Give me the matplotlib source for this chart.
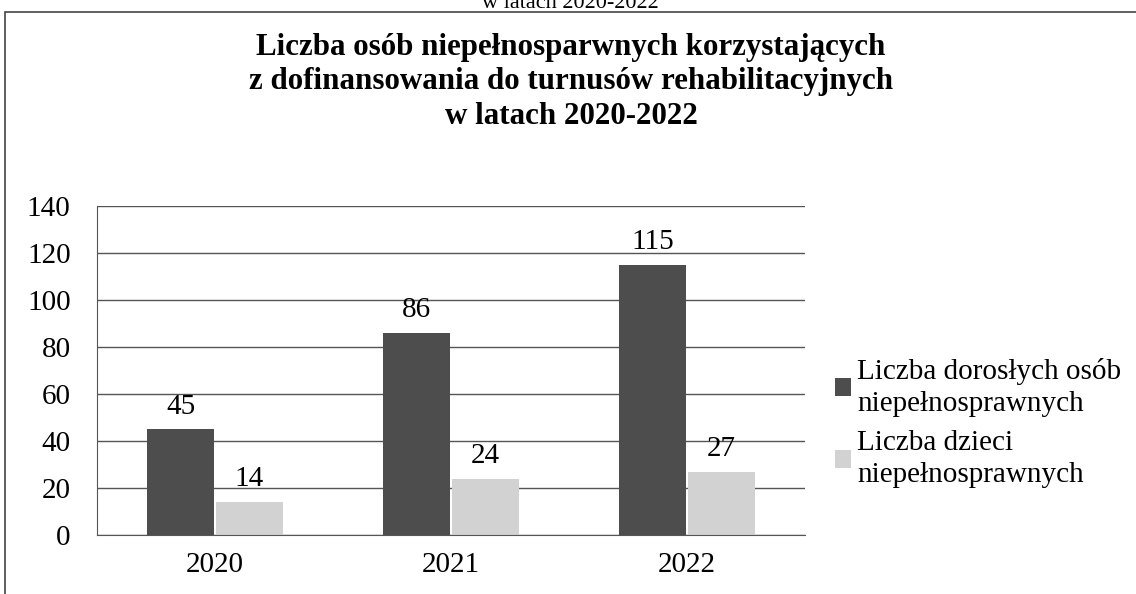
import matplotlib.pyplot as plt
from matplotlib.patches import Rectangle
import numpy as np

years = ['2020', '2021', '2022']
adults = [45, 86, 115]
children = [14, 24, 27]
series_names = ['Liczba dorosłych osób\nniepełnosprawnych',
                'Liczba dzieci\nniepełnosprawnych']
title = ('Liczba osób niepełnosparwnych korzystających\n'
         'z dofinansowania do turnusów rehabilitacyjnych\n'
         'w latach 2020-2022')
cut_title = 'w latach 2020-2022'

plt.rcParams['font.family'] = ['Liberation Serif', 'DejaVu Serif']

fig = plt.figure(figsize=(11.36, 5.94), dpi=100)
ax = fig.add_axes([97 / 1136, 1 - 535 / 594, 708 / 1136, 329 / 594])

x = np.arange(len(years))
w = 0.284
b1 = ax.bar(x - w / 2 - 0.004, adults, w, color='#4d4d4d', label=series_names[0])
b2 = ax.bar(x + w / 2 + 0.004, children, w, color='#d2d2d2', label=series_names[1])

for bars, vals in ((b1, adults), (b2, children)):
    for rect, v in zip(bars, vals):
        ax.annotate(str(v), (rect.get_x() + rect.get_width() / 2, v),
                    xytext=(0, 7), textcoords='offset points',
                    ha='center', va='bottom', fontsize=21)

ax.set_xlim(-0.5, 2.5)
ax.set_ylim(0, 140)
ax.set_yticks(range(0, 141, 20))
ax.set_xticks(x)
ax.set_xticklabels(years)
ax.tick_params(axis='both', length=0, labelsize=21)
ax.tick_params(axis='y', pad=19)
ax.tick_params(axis='x', pad=12)
ax.yaxis.grid(True, color='#555555', linewidth=1)
ax.set_axisbelow(True)
for s in ['top', 'right']:
    ax.spines[s].set_visible(False)
ax.spines['left'].set_color('#555555')
ax.spines['bottom'].set_color('#555555')

fig.text(571 / 1136, 1 - 82 / 594, title, ha='center', va='center',
         fontsize=22.3, fontweight='bold', linespacing=1.24)
fig.text(570 / 1136, 1 - 8 / 594, cut_title, ha='center', va='baseline',
         fontsize=16)

leg = fig.legend(loc='center left', bbox_to_anchor=(835 / 1136, 1 - 423 / 594),
                 frameon=False, fontsize=21, handlelength=0.55, handleheight=0.55,
                 handletextpad=0.2, borderpad=0, borderaxespad=0, labelspacing=0.45)
for t in leg.get_texts():
    t.set_linespacing(1.32)

fig.patches.append(Rectangle((5 / 1136, -0.05), 1.1, 1 - 12 / 594 + 0.05,
                             transform=fig.transFigure, fill=False,
                             edgecolor='#444444', linewidth=1.2))

fig.savefig('out.png', dpi=100)
